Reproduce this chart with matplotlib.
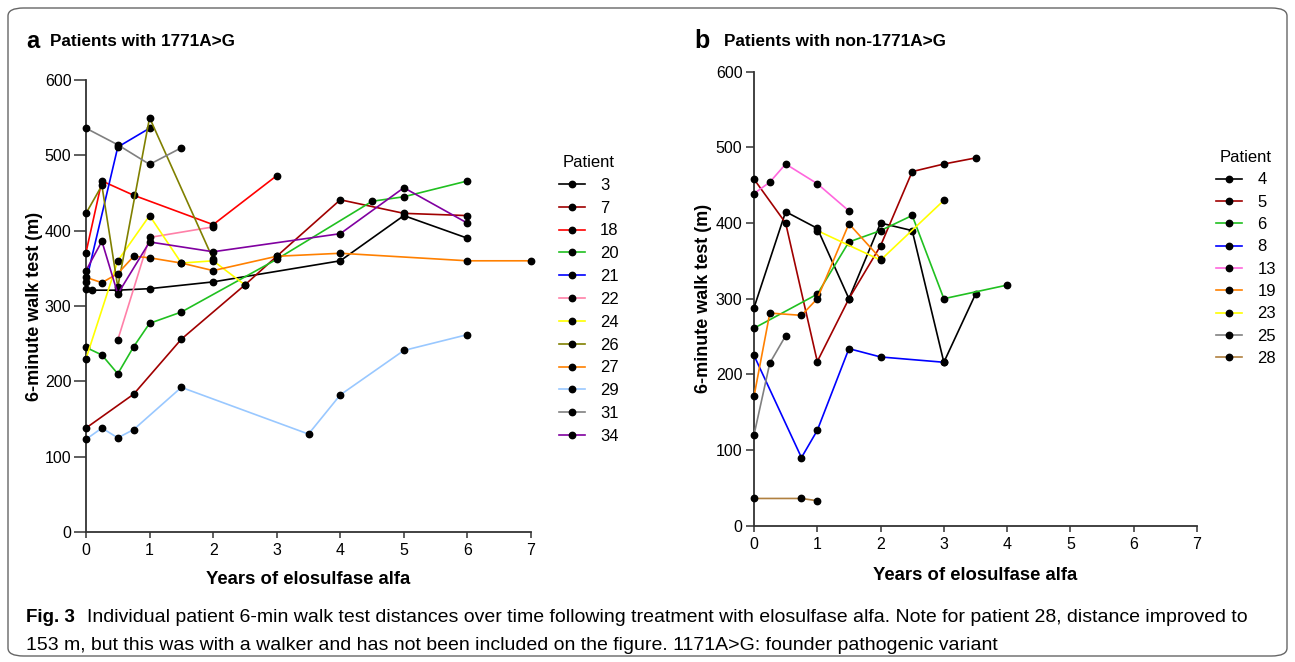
import numpy as np
import matplotlib.pyplot as plt
from matplotlib.patches import FancyBboxPatch
from matplotlib.lines import Line2D

# ---- Panel a: patients with 1771A>G ----
ids_a = ["3", "7", "18", "20", "21", "22", "24", "26", "27", "29", "31", "34"]
col_a = ["#000000", "#a00000", "#ff0000", "#20c020", "#0000ff", "#ff80a8",
         "#ffff00", "#808000", "#ff8000", "#99c8ff", "#808080", "#8000a0"]

x3 = [0, 0.1, 0.5, 1, 2, 4, 5, 6]
y3 = [322, 321, 321, 323, 332, 360, 420, 390]
x7 = [0, 0.75, 1.5, 2.5, 3, 4, 5, 6]
y7 = [138, 183, 256, 328, 366, 441, 423, 420]
x18 = [0, 0.25, 0.75, 2, 3]
y18 = [371, 466, 447, 408, 473]
x20 = [0, 0.25, 0.5, 0.75, 1, 1.5, 3, 4.5, 5, 6]
y20 = [245, 235, 210, 246, 277, 292, 362, 439, 445, 466]
x21 = [0, 0.5, 1]
y21 = [332, 511, 536]
x22 = [0.5, 1, 2]
y22 = [255, 391, 405]
x24 = [0, 0.5, 1, 1.5, 2, 2.5]
y24 = [230, 360, 420, 357, 360, 328]
x26 = [0, 0.25, 0.5, 1, 2]
y26 = [423, 460, 325, 550, 362]
x27 = [0, 0.25, 0.5, 0.75, 1, 1.5, 2, 3, 4, 6, 7]
y27 = [338, 331, 343, 366, 364, 357, 347, 366, 370, 360, 360]
x29 = [0, 0.25, 0.5, 0.75, 1.5, 3.5, 4, 5, 6]
y29 = [123, 138, 125, 136, 192, 130, 182, 241, 262]
x31 = [0, 0.5, 1, 1.5]
y31 = [536, 514, 488, 510]
x34 = [0, 0.25, 0.5, 1, 2, 4, 5, 6]
y34 = [347, 386, 316, 385, 372, 396, 457, 410]

xs_a = [x3, x7, x18, x20, x21, x22, x24, x26, x27, x29, x31, x34]
ys_a = [y3, y7, y18, y20, y21, y22, y24, y26, y27, y29, y31, y34]

# ---- Panel b: patients with non-1771A>G ----
ids_b = ["4", "5", "6", "8", "13", "19", "23", "25", "28"]
col_b = ["#000000", "#a00000", "#20c020", "#0000ff", "#ff66dd", "#ff8000",
         "#ffff00", "#808080", "#b08040"]

x4 = [0, 0.5, 1, 1.5, 2, 2.5, 3, 3.5]
y4 = [288, 415, 393, 300, 400, 390, 216, 306]
x5 = [0, 0.5, 1, 1.5, 2, 2.5, 3, 3.5]
y5 = [458, 400, 217, 300, 370, 468, 478, 486]
x6 = [0, 1, 1.5, 2, 2.5, 3, 4]
y6 = [261, 306, 375, 390, 410, 300, 318]
x8 = [0, 0.75, 1, 1.5, 2, 3]
y8 = [225, 90, 126, 234, 223, 216]
x13 = [0, 0.25, 0.5, 1, 1.5]
y13 = [439, 454, 478, 452, 416]
x19 = [0, 0.25, 0.75, 1, 1.5, 2]
y19 = [171, 281, 278, 300, 399, 353]
x23 = [1, 2, 3]
y23 = [390, 351, 430]
x25 = [0, 0.25, 0.5]
y25 = [120, 215, 251]
x28 = [0, 0.75, 1]
y28 = [36, 36, 33]

xs_b = [x4, x5, x6, x8, x13, x19, x23, x25, x28]
ys_b = [y4, y5, y6, y8, y13, y19, y23, y25, y28]

plt.rcParams["font.family"] = ["Liberation Sans", "DejaVu Sans"]

fig = plt.figure(figsize=(12.95, 6.62), dpi=100)

# rounded frame round the whole figure
frame = FancyBboxPatch((8 / 1295, 1 - 656 / 662), 1279 / 1295, 648 / 662,
                       boxstyle="round,pad=0,rounding_size=0.012",
                       transform=fig.transFigure, fc="none", ec="#666666", lw=1.0)
fig.patches.append(frame)

ax1 = fig.add_axes([86 / 1295, 1 - 532 / 662, 445 / 1295, 452 / 662])
ax2 = fig.add_axes([754 / 1295, 1 - 525.7 / 662, 443 / 1295, 454 / 662])


def draw_panel(ax, xs, ys, cols, ids, leg_anchor, spacing):
    handles = []
    for x, y, c, lab in zip(xs, ys, cols, ids):
        ax.plot(x, y, color=c, lw=1.2, marker="o", ms=4.6, mfc="black",
                mec="black", clip_on=False, zorder=3)
        handles.append(Line2D([0], [0], color=c, lw=1.2, marker="o", ms=4.6,
                              mfc="black", mec="black"))
    ax.set_xlim(0, 7)
    ax.set_ylim(0, 600)
    ax.set_xticks(range(0, 8))
    ax.set_yticks(range(0, 601, 100))
    for s in ["top", "right"]:
        ax.spines[s].set_visible(False)
    for s in ["left", "bottom"]:
        ax.spines[s].set_color("#333333")
        ax.spines[s].set_linewidth(1.3)
    ax.tick_params(width=1.1, color="#333333", labelsize=11.5)
    leg = ax.legend(handles, ids, title="Patient", loc="upper left",
                    bbox_to_anchor=leg_anchor, frameon=False, fontsize=12,
                    title_fontsize=12, handlelength=1.6, handletextpad=0.9,
                    labelspacing=spacing, borderaxespad=0)
    leg._legend_box.align = "center"
    return leg


draw_panel(ax1, xs_a, ys_a, col_a, ids_a, (1.047, 0.849), 0.47)
draw_panel(ax2, xs_b, ys_b, col_b, ids_b, (1.027, 0.842), 0.44)
ax1.tick_params(axis="y", length=9, pad=1.5)
ax1.tick_params(axis="x", length=4, pad=4)
ax2.tick_params(axis="y", length=5.8, pad=2.5)
ax2.tick_params(axis="x", length=4.5, pad=3.5)

# panel letters and titles
fig.text(26 / 1295, 1 - 41 / 662, "a", fontsize=17, fontweight="bold", va="center")
fig.text(50 / 1295, 1 - 42 / 662, "Patients with 1771A>G", fontsize=12.3,
         fontweight="bold", va="center")
fig.text(694 / 1295, 1 - 41 / 662, "b", fontsize=18, fontweight="bold", va="center")
fig.text(724 / 1295, 1 - 42 / 662, "Patients with non-1771A>G", fontsize=12.3,
         fontweight="bold", va="center")

# axis labels
fig.text(35 / 1295, 1 - 306 / 662, "6-minute walk test (m)", rotation=90,
         fontsize=13, fontweight="bold", ha="center", va="center")
fig.text(703 / 1295, 1 - 298 / 662, "6-minute walk test (m)", rotation=90,
         fontsize=13, fontweight="bold", ha="center", va="center")
fig.text(308 / 1295, 1 - 580 / 662, "Years of elosulfase alfa", fontsize=13.3,
         fontweight="bold", ha="center", va="center")
fig.text(975 / 1295, 1 - 576 / 662, "Years of elosulfase alfa", fontsize=13.3,
         fontweight="bold", ha="center", va="center")

# caption
fig.text(26 / 1295, 1 - 617 / 662, "Fig. 3", fontsize=13.5, fontweight="bold",
         va="center")
fig.text(87 / 1295, 1 - 617 / 662,
         "Individual patient 6-min walk test distances over time following treatment "
         "with elosulfase alfa. Note for patient 28, distance improved to",
         fontsize=14, va="center")
fig.text(26 / 1295, 1 - 645 / 662,
         "153 m, but this was with a walker and has not been included on the figure. "
         "1171A>G: founder pathogenic variant",
         fontsize=14, va="center")

fig.savefig("out.png", dpi=100)
